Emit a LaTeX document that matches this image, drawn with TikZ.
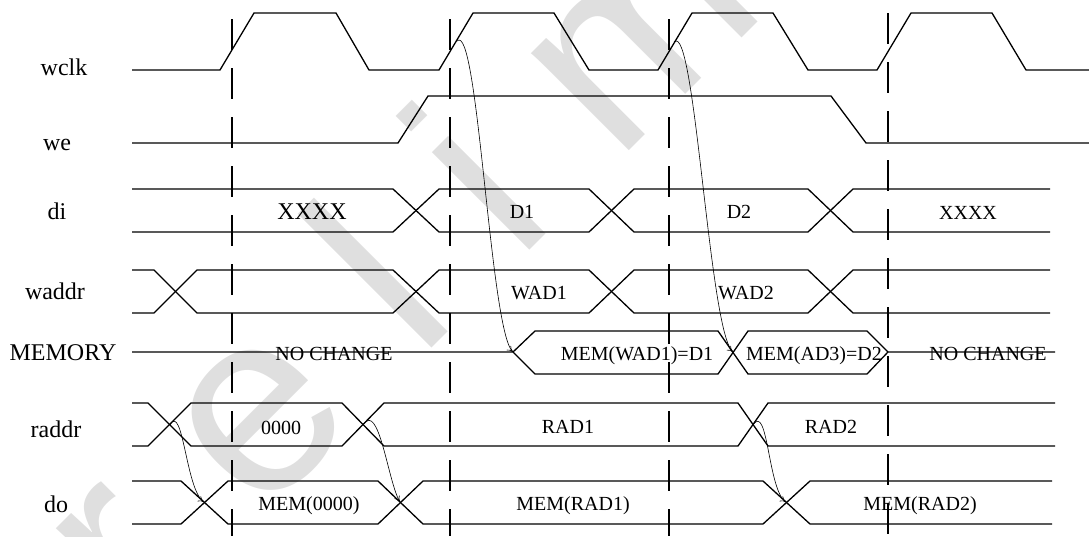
\documentclass[tikz,border=0pt]{standalone}
\usepackage{fontspec}
\setmainfont{Liberation Serif}
\newfontfamily\wmfont[LetterSpace=31]{Liberation Sans}
\usetikzlibrary{arrows.meta}
\definecolor{wmgray}{RGB}{223,223,223}
\tikzset{
    sig/.style={line width=1.3pt},
    cyc/.style={line width=1.3pt, dash pattern=on 31pt off 18pt},
    cause/.style={line width=0.6pt, -{To[length=6pt,width=6pt]}},
    sname/.style={font=\fontsize{24}{28}\selectfont, anchor=base, inner sep=0pt},
    busval/.style={font=\fontsize{20}{24}\selectfont, anchor=base, inner sep=0pt},
}

\begin{document}
\begin{tikzpicture}[x=1pt,y=-1pt]
\useasboundingbox (0,0) rectangle (1089,536);
% watermark
\node[rotate=45, anchor=base west, text=wmgray, inner sep=0pt, font=\wmfont\fontsize{261}{261}\selectfont] (wm) at (-39,819) {Preliminary};

% clock cycle markers
\foreach \x in {232,450,669} \draw[cyc] (\x,19) -- (\x,536);
\draw[cyc] (888,13) -- (888,536);

% signal names
\node[sname] (nwclk) at (64,75) {wclk};
\node[sname] (nwe) at (57,150) {we};
\node[sname] (ndi) at (57,219) {di};
\node[sname] (nwaddr) at (55,299) {waddr};
\node[sname] (nmem) at (63,360) {MEMORY};
\node[sname] (nraddr) at (56,437) {raddr};
\node[sname] (ndo) at (56,512) {do};

% wclk
\draw[sig] (132,70) -- (220,70) -- (254,13) -- (336,13) -- (369,70) -- (439,70) -- (473,13) -- (554,13) -- (589,70)
    -- (658,70) -- (692,13) -- (773,13) -- (808,70) -- (877,70) -- (911,13) -- (992,13) -- (1026,70) -- (1089,70);
% we
\draw[sig] (132,143) -- (398,143) -- (428,96) -- (831,96) -- (866,143) -- (1089,143);

% di
\draw[sig] (132,189) -- (393,189) -- (439,232) -- (589,232) -- (634,189) -- (808,189) -- (853,232) -- (1050,232);
\draw[sig] (132,232) -- (393,232) -- (439,189) -- (589,189) -- (634,232) -- (808,232) -- (853,189) -- (1050,189);
\node[busval, font=\fontsize{24}{28}\selectfont] (dix1) at (312,219) {XXXX};
\node[busval] (did1) at (522,218) {D1};
\node[busval] (did2) at (739,218) {D2};
\node[busval] (dix2) at (968,219) {XXXX};

% waddr
\draw[sig] (132,270) -- (154,270) -- (197,313) -- (393,313) -- (439,270) -- (589,270) -- (634,313) -- (808,313) -- (853,270) -- (1050,270);
\draw[sig] (132,313) -- (154,313) -- (197,270) -- (393,270) -- (439,313) -- (589,313) -- (634,270) -- (808,270) -- (853,313) -- (1050,313);
\node[busval] (wa1) at (539,299) {WAD1};
\node[busval] (wa2) at (746,299) {WAD2};

% MEMORY
\draw[sig] (132,352) -- (513,352) -- (535,331) -- (718,331) -- (748,374) -- (867,374) -- (888,352) -- (1055,352);
\draw[sig] (513,352) -- (535,374) -- (718,374) -- (748,331) -- (867,331) -- (888,352);
\node[busval] (mnc1) at (334,360) {NO CHANGE};
\node[busval] (mw1) at (637,360) {MEM(WAD1)=D1};
\node[busval] (mw2) at (814,360) {MEM(AD3)=D2};
\node[busval] (mnc2) at (988,360) {NO CHANGE};

% raddr
\draw[sig] (132,403) -- (148,403) -- (191,446) -- (342,446) -- (384,403) -- (738,403) -- (768,446) -- (1055,446);
\draw[sig] (132,446) -- (148,446) -- (191,403) -- (342,403) -- (384,446) -- (738,446) -- (768,403) -- (1055,403);
\node[busval] (ra0) at (281,434) {0000};
\node[busval] (ra1) at (568,433) {RAD1};
\node[busval] (ra2) at (831,433) {RAD2};

% do
\draw[sig] (132,481) -- (181,481) -- (228,524) -- (378,524) -- (423,481) -- (763,481) -- (810,524) -- (1052,524);
\draw[sig] (132,524) -- (181,524) -- (228,481) -- (378,481) -- (423,524) -- (763,524) -- (810,481) -- (1052,481);
\node[busval] (do0) at (309,510) {MEM(0000)};
\node[busval] (do1) at (573,510) {MEM(RAD1)};
\node[busval] (do2) at (920,510) {MEM(RAD2)};

% cause arrows
\coordinate (ck1) at (457,41);
\coordinate (ck2) at (674,42);
\coordinate (mx1) at (513,352);
\coordinate (mx2) at (733,352);
\coordinate (rx1) at (170,425);
\coordinate (rx2) at (363,425);
\coordinate (rx3) at (753,425);
\coordinate (dx1) at (204,502);
\coordinate (dx2) at (400,502);
\coordinate (dx3) at (786,502);
\draw[cause] (ck1) .. controls (478,20) and (490,330) .. (mx1);
\draw[cause] (ck2) .. controls (695,20) and (709,330) .. (mx2);
\draw[cause] (rx1) .. controls (183,402) and (186,490) .. (dx1);
\draw[cause] (rx2) .. controls (379,400) and (388,482) .. (dx2);
\draw[cause] (rx3) .. controls (768,402) and (768,490) .. (dx3);
\end{tikzpicture}
\end{document}
